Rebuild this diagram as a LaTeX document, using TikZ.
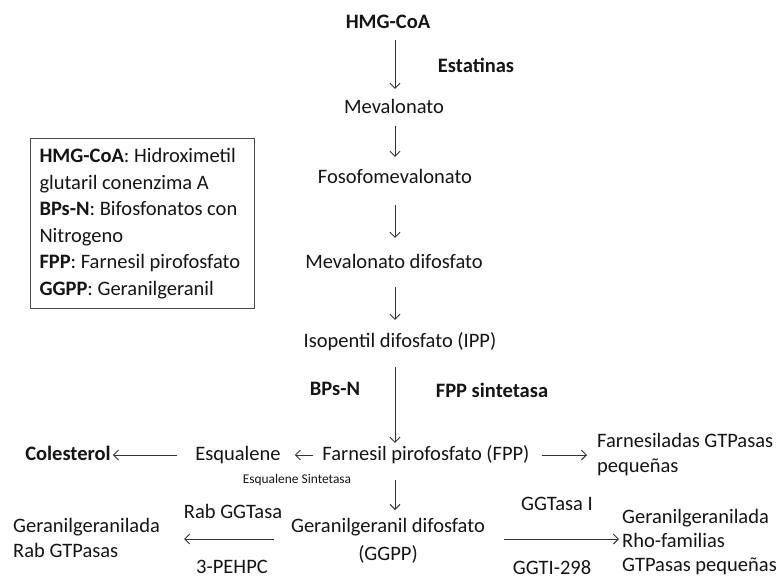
\documentclass[tikz,border=0pt]{standalone}
\usepackage{fontspec}
\setmainfont{Carlito}
\usetikzlibrary{arrows.meta}
\definecolor{txt}{HTML}{151515}
\definecolor{arrc}{HTML}{333333}
\definecolor{boxc}{HTML}{4A4A4A}
\begin{document}
\begin{tikzpicture}[x=1pt,y=-1pt,
  lbl/.style={inner sep=0pt, text height=14pt, text depth=4pt, font=\fontsize{20.5}{25}\selectfont, text=txt},
  blbl/.style={lbl, font=\fontsize{20.5}{25}\selectfont\bfseries},
  small/.style={inner sep=0pt, text height=9pt, text depth=3pt, font=\fontsize{13.4}{16}\selectfont, text=txt},
  multi/.style={inner sep=0pt, align=left, text=txt},
  arr/.style={draw=arrc, line width=0.9pt, -{Straight Barb[length=5pt,width=10pt]}}]
\useasboundingbox[fill=white] (0,0) rectangle (779,584);
\coordinate (ax) at (395,0);

% legend
\node[draw=boxc, line width=1pt, anchor=north west, text width=206pt, inner xsep=9pt, inner ysep=10pt, align=flush left, text=txt, font=\fontsize{20.5}{26.5}\selectfont] (legend) at (30,138)
 {\textbf{HMG-CoA}: Hidroximetil\\ glutaril conenzima A\\ \textbf{BPs-N}: Bifosfonatos con\\ Nitrogeno\\ \textbf{FPP}: Farnesil pirofosfato\\ \textbf{GGPP}: Geranilgeranil};

% main chain
\node[blbl] (hmg) at (388,23) {HMG-CoA};
\node[blbl] (estat) at (476,67) {Estatinas};
\node[lbl] (meva) at (394,108) {Mevalonato};
\node[lbl] (fosfo) at (395,178) {Fosofomevalonato};
\node[lbl] (mevd) at (394,263) {Mevalonato difosfato};
\node[lbl] (ipp) at (400,342) {Isopentil difosfato (IPP)};
\node[blbl] (bpsn) at (335,390) {BPs-N};
\node[blbl] (fppsint) at (492,392) {FPP sintetasa};
\node[lbl] (fpp) at (426,455) {Farnesil pirofosfato (FPP)};
\node[lbl] (esq) at (238,455) {Esqualene};
\node[blbl] (col) at (68,455) {Colesterol};
\node[small] (esqsint) at (297,480) {Esqualene Sintetasa};
\node[multi, anchor=north west, font=\fontsize{20.5}{25}\selectfont] (farn) at (597,433) {Farnesiladas GTPasas\\pequeñas};
\node[multi, align=center, anchor=north, font=\fontsize{20.5}{28}\selectfont] (ggpp) at (388,518) {Geranilgeranil difosfato\\(GGPP)};
\node[multi, anchor=north west, font=\fontsize{20.5}{25}\selectfont] (rabgrp) at (13,518) {Geranilgeranilada\\Rab GTPasas};
\node[lbl] (rabggt) at (233,513) {Rab GGTasa};
\node[lbl] (pehpc) at (232,568) {3-PEHPC};
\node[lbl] (ggtasa) at (557,505) {GGTasa I};
\node[lbl] (ggti) at (552,569) {GGTI-298};
\node[multi, anchor=north west, font=\fontsize{20.5}{24}\selectfont] (rho) at (622,509) {Geranilgeranilada\\Rho-familias\\GTPasas pequeñas};

% vertical arrows
\draw[arr, shorten <=8pt, shorten >=10pt] (hmg.south -| ax) -- (meva.north -| ax);
\draw[arr, shorten <=9pt, shorten >=12pt] (meva.south -| ax) -- (fosfo.north -| ax);
\draw[arr, shorten <=18pt, shorten >=16pt] (fosfo.south -| ax) -- (mevd.north -| ax);
\draw[arr, shorten <=15pt, shorten >=13pt] (mevd.south -| ax) -- (ipp.north -| ax);
\draw[arr, shorten <=16pt, shorten >=3pt] (ipp.south -| ax) -- (fpp.north -| ax);
\draw[arr, shorten <=16pt, shorten >=8pt] (fpp.south -| ax) -- (ggpp.north -| ax);

% horizontal arrows
\draw[arr, shorten <=9pt, shorten >=14pt] (fpp.west) -- (fpp.west -| esq.east);
\draw[arr, shorten <=18pt, shorten >=2pt] (esq.west) -- (esq.west -| col.east);
\draw[arr, shorten <=12pt, shorten >=10pt] (fpp.east) -- (fpp.east -| farn.west);
\coordinate (yr) at (0,539);
\draw[arr, shorten <=17pt, shorten >=24pt] (ggpp.west |- yr) -- (rabgrp.east |- yr);
\draw[arr, shorten <=19pt, shorten >=3pt] (ggpp.east |- yr) -- (rho.west |- yr);
\end{tikzpicture}
\end{document}
